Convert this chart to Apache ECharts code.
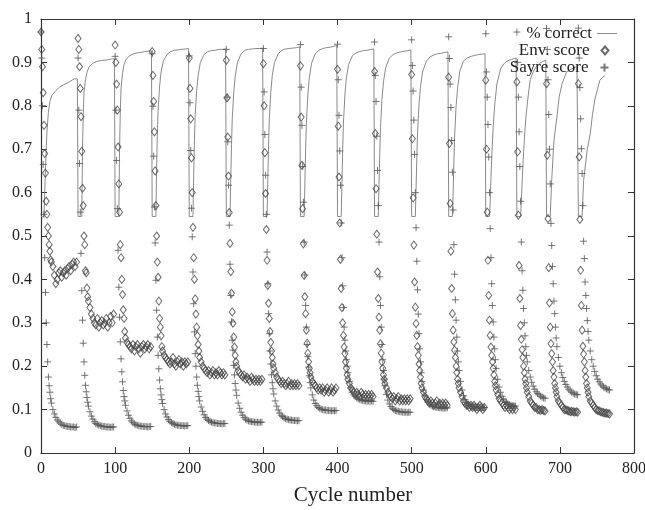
<!DOCTYPE html>
<html>
<head>
<meta charset="utf-8">
<script src="https://cdn.jsdelivr.net/npm/echarts@6/dist/echarts.min.js"></script>
<style>
html, body { margin: 0; padding: 0; background: #fff; }
#chart { width: 645px; height: 510px; }
</style>
</head>
<body>
<div id="chart"></div>
<script>
// first cycle of each run
const segStart = [0, 50, 100, 150, 200, 250, 300, 350, 400, 450, 500, 550, 600, 642, 682, 725];
// cycle offsets of the score samples inside a run
const cycleOffsets = [0,1,2,3,4,5,6,7,8,9,10,11,12,13,14,16,18,20,22,24,26,28,30,32,34,36,38,40,42,44,46,48];

const envScore = [
  [0.97,0.93,0.89,0.83,0.755,0.69,0.645,0.58,0.55,0.52,0.50,0.48,0.465,0.445,0.44,
   0.43,0.41,0.39,0.40,0.415,0.42,0.405,0.415,0.42,0.41,0.425,0.43,0.42,0.435,0.44,0.43,0.44],
  [0.955,0.93,0.89,0.84,0.775,0.695,0.61,0.57,0.50,0.48,0.42,0.415,0.38,0.36,0.35,
   0.335,0.32,0.31,0.30,0.295,0.31,0.29,0.30,0.305,0.295,0.30,0.31,0.29,0.30,0.315,0.30,0.32],
  [0.94,0.90,0.85,0.79,0.705,0.62,0.555,0.48,0.45,0.40,0.365,0.33,0.31,0.28,0.265,
   0.255,0.25,0.245,0.24,0.25,0.235,0.245,0.25,0.24,0.23,0.245,0.25,0.24,0.245,0.25,0.24,0.245],
  [0.925,0.87,0.81,0.74,0.65,0.57,0.50,0.44,0.405,0.35,0.31,0.29,0.27,0.245,0.235,
   0.225,0.22,0.215,0.21,0.205,0.21,0.22,0.205,0.20,0.21,0.215,0.205,0.21,0.20,0.21,0.205,0.21],
  [0.91,0.84,0.77,0.68,0.60,0.52,0.45,0.40,0.355,0.32,0.29,0.27,0.25,0.235,0.22,
   0.21,0.20,0.195,0.19,0.185,0.19,0.18,0.185,0.19,0.18,0.185,0.18,0.19,0.185,0.18,0.185,0.18],
  [0.905,0.818,0.728,0.638,0.554,0.483,0.418,0.368,0.325,0.299,0.267,0.244,0.225,0.21,0.2,
   0.19,0.185,0.18,0.175,0.18,0.17,0.175,0.17,0.165,0.175,0.17,0.165,0.17,0.165,0.17,0.165,0.17],
  [0.897,0.80,0.692,0.598,0.515,0.444,0.386,0.345,0.31,0.28,0.255,0.235,0.22,0.205,0.195,
   0.185,0.175,0.17,0.165,0.16,0.165,0.16,0.155,0.16,0.165,0.155,0.16,0.155,0.16,0.155,0.16,0.155],
  [0.892,0.774,0.663,0.563,0.482,0.409,0.36,0.321,0.283,0.253,0.23,0.21,0.195,0.185,0.175,
   0.165,0.16,0.155,0.15,0.145,0.15,0.145,0.15,0.14,0.145,0.15,0.14,0.145,0.15,0.14,0.145,0.15],
  [0.884,0.753,0.636,0.53,0.446,0.379,0.335,0.30,0.271,0.244,0.229,0.21,0.195,0.18,0.17,
   0.16,0.15,0.145,0.14,0.135,0.14,0.135,0.13,0.14,0.135,0.13,0.135,0.13,0.135,0.13,0.135,0.13],
  [0.879,0.736,0.609,0.504,0.417,0.356,0.313,0.283,0.252,0.23,0.21,0.195,0.18,0.17,0.16,
   0.15,0.14,0.135,0.13,0.125,0.13,0.12,0.125,0.13,0.12,0.125,0.12,0.125,0.12,0.125,0.12,0.125],
  [0.872,0.724,0.588,0.479,0.394,0.336,0.298,0.271,0.245,0.225,0.205,0.19,0.175,0.16,0.15,
   0.14,0.13,0.125,0.12,0.115,0.12,0.115,0.11,0.115,0.12,0.11,0.115,0.11,0.115,0.11,0.115,0.11],
  [0.866,0.713,0.575,0.465,0.379,0.321,0.283,0.256,0.237,0.22,0.2,0.185,0.17,0.16,0.15,
   0.14,0.13,0.12,0.115,0.11,0.11,0.105,0.11,0.105,0.11,0.105,0.1,0.105,0.11,0.105,0.1,0.105],
  [0.859,0.70,0.555,0.444,0.363,0.306,0.271,0.244,0.225,0.21,0.195,0.18,0.165,0.155,0.145,
   0.135,0.125,0.12,0.115,0.11,0.105,0.11,0.105,0.1,0.105,0.1,0.105,0.1],
  [0.855,0.694,0.548,0.432,0.356,0.294,0.262,0.238,0.22,0.2,0.185,0.17,0.16,0.15,0.14,
   0.13,0.12,0.115,0.11,0.105,0.105,0.1,0.1,0.098,0.1,0.098,0.097],
  [0.851,0.686,0.54,0.427,0.346,0.29,0.252,0.229,0.21,0.19,0.175,0.16,0.15,0.14,0.13,
   0.12,0.115,0.11,0.105,0.1,0.1,0.098,0.097,0.095,0.096,0.095,0.094,0.095,0.094],
  [0.851,0.682,0.538,0.421,0.34,0.283,0.246,0.228,0.21,0.19,0.175,0.16,0.15,0.14,0.13,
   0.12,0.115,0.11,0.105,0.1,0.098,0.097,0.095,0.094,0.093,0.092,0.092,0.091,0.09]
];

const sayreScore = [
  [0.97,0.91,0.80,0.665,0.55,0.45,0.37,0.30,0.25,0.21,0.175,0.155,0.14,0.125,0.115,
   0.1,0.09,0.082,0.076,0.072,0.069,0.066,0.064,0.063,0.062,0.061,0.061,0.06,0.06,0.06,0.059,0.06],
  [0.91,0.79,0.667,0.555,0.46,0.374,0.306,0.253,0.21,0.179,0.156,0.141,0.128,0.117,0.108,
   0.095,0.085,0.078,0.072,0.068,0.066,0.064,0.063,0.062,0.061,0.061,0.06,0.06,0.06,0.059,0.06,0.06],
  [0.914,0.79,0.674,0.563,0.467,0.382,0.313,0.256,0.217,0.187,0.164,0.144,0.13,0.12,0.11,
   0.097,0.087,0.08,0.074,0.07,0.067,0.065,0.064,0.063,0.062,0.062,0.061,0.061,0.061,0.06,0.061,0.061],
  [0.92,0.799,0.684,0.567,0.484,0.398,0.329,0.267,0.225,0.194,0.168,0.148,0.134,0.123,0.114,
   0.1,0.09,0.083,0.077,0.073,0.07,0.068,0.066,0.065,0.064,0.064,0.063,0.063,0.063,0.062,0.063,0.063],
  [0.915,0.807,0.697,0.564,0.498,0.417,0.344,0.279,0.229,0.2,0.175,0.156,0.142,0.13,0.12,
   0.106,0.096,0.088,0.082,0.078,0.075,0.073,0.071,0.07,0.069,0.069,0.068,0.068,0.068,0.067,0.068,0.068],
  [0.93,0.82,0.717,0.617,0.525,0.435,0.363,0.302,0.26,0.237,0.202,0.18,0.16,0.145,0.133,
   0.115,0.103,0.094,0.087,0.082,0.078,0.076,0.074,0.073,0.072,0.072,0.071,0.071,0.071,0.07,0.071,0.071],
  [0.932,0.832,0.734,0.64,0.55,0.463,0.39,0.321,0.275,0.235,0.205,0.18,0.162,0.148,0.136,
   0.12,0.108,0.099,0.092,0.087,0.084,0.081,0.079,0.078,0.077,0.076,0.076,0.075,0.075,0.075,0.074,0.075],
  [0.941,0.843,0.755,0.66,0.578,0.486,0.41,0.34,0.29,0.25,0.222,0.198,0.178,0.162,0.15,
   0.134,0.122,0.114,0.109,0.105,0.103,0.101,0.1,0.099,0.099,0.098,0.098,0.098,0.097,0.098,0.097,0.098],
  [0.942,0.86,0.778,0.696,0.617,0.53,0.45,0.385,0.335,0.29,0.26,0.235,0.215,0.2,0.185,
   0.165,0.15,0.14,0.134,0.13,0.127,0.125,0.123,0.122,0.121,0.12,0.12,0.119,0.12,0.119,0.12,0.119],
  [0.947,0.87,0.81,0.73,0.651,0.57,0.486,0.406,0.34,0.29,0.25,0.215,0.19,0.17,0.155,
   0.135,0.122,0.113,0.107,0.103,0.1,0.098,0.097,0.096,0.095,0.095,0.094,0.094,0.094,0.093,0.094,0.094],
  [0.952,0.893,0.834,0.767,0.688,0.6,0.519,0.442,0.376,0.32,0.275,0.24,0.21,0.185,0.165,
   0.145,0.132,0.123,0.117,0.113,0.11,0.108,0.107,0.106,0.105,0.105,0.104,0.104,0.104,0.103,0.104,0.104],
  [0.959,0.909,0.85,0.796,0.72,0.647,0.56,0.48,0.412,0.353,0.306,0.267,0.235,0.21,0.19,
   0.165,0.145,0.132,0.123,0.117,0.113,0.11,0.108,0.107,0.106,0.106,0.105,0.105,0.105,0.104,0.105,0.105],
  [0.966,0.878,0.82,0.757,0.682,0.6,0.517,0.45,0.39,0.34,0.302,0.267,0.24,0.215,0.195,
   0.17,0.152,0.14,0.131,0.124,0.119,0.116,0.113,0.111,0.11,0.109,0.108,0.108],
  [0.97,0.9,0.82,0.74,0.66,0.58,0.486,0.42,0.375,0.333,0.3,0.27,0.245,0.225,0.21,
   0.19,0.175,0.163,0.154,0.147,0.141,0.137,0.134,0.131,0.129,0.127,0.126],
  [0.978,0.93,0.86,0.78,0.7,0.62,0.529,0.478,0.43,0.39,0.35,0.321,0.29,0.265,0.245,
   0.22,0.2,0.185,0.174,0.165,0.158,0.152,0.147,0.143,0.14,0.138,0.136,0.135,0.134],
  [0.979,0.91,0.842,0.77,0.701,0.644,0.57,0.488,0.448,0.394,0.363,0.333,0.305,0.28,0.26,
   0.235,0.215,0.2,0.188,0.178,0.17,0.164,0.159,0.155,0.152,0.15,0.148,0.146,0.145]
];

// [cycle offset, fraction correct] along each run
const pctCorrect = [
  [[0,0.545],[4,0.545],[5,0.6],[6,0.65],[7,0.7],[8,0.74],[10,0.785],[12,0.81],[15,0.825],[20,0.835],[25,0.843],[30,0.848],[35,0.852],[40,0.857],[45,0.862],[49,0.862]],
  [[0,0.545],[5,0.545],[6,0.7],[7,0.78],[8,0.83],[10,0.86],[12,0.877],[15,0.89],[20,0.898],[25,0.902],[30,0.904],[35,0.905],[40,0.906],[45,0.908],[49,0.908]],
  [[0,0.545],[5,0.545],[6,0.7],[7,0.79],[8,0.84],[10,0.875],[12,0.895],[15,0.908],[20,0.916],[25,0.92],[30,0.922],[35,0.923],[40,0.925],[45,0.926],[49,0.926]],
  [[0,0.545],[5,0.545],[6,0.66],[7,0.74],[8,0.79],[10,0.845],[12,0.878],[15,0.903],[20,0.918],[25,0.925],[30,0.928],[35,0.929],[40,0.93],[45,0.931],[49,0.932]],
  [[0,0.545],[5,0.545],[6,0.64],[7,0.72],[8,0.78],[10,0.835],[12,0.87],[15,0.9],[20,0.918],[25,0.925],[30,0.927],[35,0.928],[40,0.93],[45,0.93],[49,0.931]],
  [[0,0.545],[5,0.545],[6,0.63],[7,0.71],[8,0.77],[10,0.83],[12,0.868],[15,0.9],[20,0.92],[25,0.928],[30,0.93],[35,0.931],[40,0.932],[45,0.932],[49,0.933]],
  [[0,0.545],[5,0.545],[6,0.63],[7,0.71],[8,0.77],[10,0.83],[12,0.87],[15,0.9],[20,0.92],[25,0.928],[30,0.931],[35,0.932],[40,0.933],[45,0.934],[49,0.936]],
  [[0,0.545],[5,0.545],[6,0.62],[7,0.7],[8,0.76],[10,0.825],[12,0.865],[15,0.898],[20,0.92],[25,0.928],[30,0.932],[35,0.934],[40,0.935],[45,0.937],[49,0.939]],
  [[0,0.545],[5,0.545],[6,0.62],[7,0.7],[8,0.76],[10,0.825],[12,0.865],[15,0.895],[20,0.915],[25,0.922],[30,0.925],[35,0.927],[40,0.928],[45,0.93],[49,0.931]],
  [[0,0.545],[5,0.545],[6,0.62],[7,0.69],[8,0.75],[10,0.815],[12,0.855],[15,0.888],[20,0.91],[25,0.918],[30,0.922],[35,0.924],[40,0.926],[45,0.927],[49,0.929]],
  [[0,0.545],[5,0.545],[6,0.61],[7,0.68],[8,0.74],[10,0.805],[12,0.845],[15,0.88],[20,0.903],[25,0.913],[30,0.917],[35,0.92],[40,0.921],[45,0.923],[49,0.924]],
  [[0,0.545],[5,0.545],[6,0.6],[7,0.67],[8,0.73],[10,0.8],[12,0.84],[15,0.88],[20,0.903],[25,0.91],[30,0.914],[35,0.916],[40,0.918],[45,0.919],[49,0.92]],
  [[0,0.545],[5,0.545],[6,0.58],[7,0.63],[8,0.68],[10,0.75],[12,0.8],[15,0.85],[20,0.885],[25,0.898],[30,0.904],[35,0.907],[41,0.91]],
  [[0,0.545],[5,0.545],[6,0.58],[7,0.62],[8,0.66],[10,0.72],[12,0.77],[15,0.82],[18,0.86],[22,0.878],[26,0.89],[30,0.897],[35,0.902],[39,0.905]],
  [[0,0.545],[5,0.545],[7,0.63],[10,0.72],[14,0.774],[17,0.82],[21,0.851],[27,0.878],[34,0.885],[41,0.89]],
  [[0,0.545],[5,0.545],[7,0.628],[12,0.7],[16,0.736],[19,0.78],[22,0.813],[26,0.84],[29,0.859],[33,0.866],[36,0.87]]
];

let envData = [], sayreData = [], pctData = [];
segStart.forEach(function (s, i) {
  envScore[i].forEach(function (v, j) { envData.push([s + cycleOffsets[j], v]); });
  sayreScore[i].forEach(function (v, j) { sayreData.push([s + cycleOffsets[j], v]); });
  pctCorrect[i].forEach(function (p) { pctData.push([s + p[0], p[1]]); });
});

const serif = 'Liberation Serif, Times New Roman, serif';
const axisColor = '#333';

function xAx(pos, labels) {
  return {
    type: 'value', min: 0, max: 800, interval: 100, position: pos,
    axisLine: { show: true, onZero: false, lineStyle: { color: axisColor, width: 1.2 } },
    axisTick: { show: true, inside: true, length: 6, lineStyle: { color: axisColor } },
    axisLabel: { show: labels, margin: 8, fontFamily: serif, fontSize: 16, color: '#222' },
    splitLine: { show: false }
  };
}
function yAx(pos, labels) {
  return {
    type: 'value', min: 0, max: 1, interval: 0.1, position: pos,
    axisLine: { show: true, onZero: false, lineStyle: { color: axisColor, width: 1.2 } },
    axisTick: { show: true, inside: true, length: 6, lineStyle: { color: axisColor } },
    axisLabel: { show: labels, margin: 9, fontFamily: serif, fontSize: 16, color: '#222' },
    splitLine: { show: false }
  };
}
// one key entry per legend so that all texts end at the same x
function key(name, top, icon, w, h, right, textPad) {
  return {
    data: [{ name: name, icon: icon }], right: right, top: top, align: 'right', orient: 'vertical',
    itemWidth: w, itemHeight: h, selectedMode: false,
    textStyle: { fontFamily: serif, fontSize: 17, color: '#222', padding: [0, textPad, 0, 0] }
  };
}

let chart = echarts.init(document.getElementById('chart'));
let option = {
  animation: false,
  backgroundColor: '#fff',
  grid: { left: 41, right: 11, top: 19, bottom: 57, outerBoundsMode: 'none' },
  xAxis: [xAx('bottom', true), xAx('top', false)],
  yAxis: [yAx('left', true), yAx('right', false)],
  legend: [
    key('% correct', 20, 'rect', 20, 1, 23, 0),
    key('Env. score', 37, 'diamond', 7, 8, 29, 7),
    key('Sayre score', 54, 'path://M0,5L10,5M5,0L5,10', 8, 8, 29, 7)
  ],
  graphic: [{
    type: 'text', x: 353, y: 495,
    style: { text: 'Cycle number', font: '21px ' + serif, fill: '#222',
      align: 'center', verticalAlign: 'middle', textAlign: 'center', textVerticalAlign: 'middle' }
  }],
  series: [
    {
      name: '% correct', type: 'line', data: pctData, symbol: 'none',
      lineStyle: { color: '#8a8a8a', width: 1 }, itemStyle: { color: '#8a8a8a' }, z: 2
    },
    {
      name: 'Env. score', type: 'scatter', data: envData, symbol: 'diamond', symbolSize: [6, 8],
      itemStyle: { color: 'none', borderColor: '#444', borderWidth: 1 }, z: 3
    },
    {
      name: 'Sayre score', type: 'scatter', data: sayreData,
      symbol: 'path://M0,5L10,5M5,0L5,10', symbolSize: 7,
      itemStyle: { color: 'none', borderColor: '#555', borderWidth: 1 }, z: 4
    }
  ]
};
chart.setOption(option);
</script>
</body>
</html>
